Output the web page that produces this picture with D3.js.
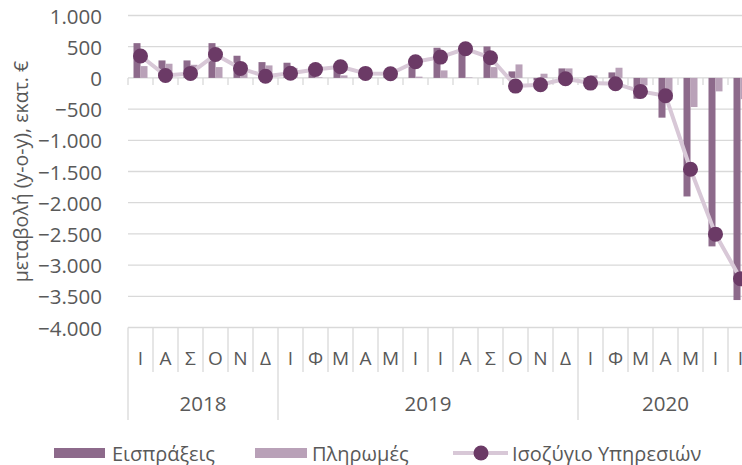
<!DOCTYPE html>
<html>
<head>
<meta charset="utf-8">
<script src="https://cdn.jsdelivr.net/npm/d3@7/dist/d3.min.js"></script>
<style>
  html, body { margin: 0; padding: 0; background: #fff; }
  svg { display: block; font-family: "Open Sans", "Noto Sans", sans-serif; }
</style>
</head>
<body>
<svg id="chart" width="742" height="465"></svg>
<script>
// ---- Data ----
const months = ["Ι","Α","Σ","Ο","Ν","Δ",
                "Ι","Φ","Μ","Α","Μ","Ι","Ι","Α","Σ","Ο","Ν","Δ",
                "Ι","Φ","Μ","Α","Μ","Ι","Ι"];
const years = [
  {label: "2018", start: 0, end: 6},
  {label: "2019", start: 6, end: 18},
  {label: "2020", start: 18, end: 25}
];
const receipts = [557, 280, 280, 557, 355, 253, 243, 150, 200, 85, 75, 280,
                  483, 475, 504, 104, -42, 152, -43, 88, -333, -637, -1900, -2700, -3560];
const payments = [189, 227, 210, 173, 208, 200, 160, 10, 40, 10, 8, 20,
                  120, 8, 173, 216, 67, 152, 40, 163, -120, -345, -467, -216, -340];
const balance  = [352, 38, 72, 374, 152, 27, 75, 134, 178, 72, 67, 258,
                  333, 467, 323, -131, -109, -13, -83, -93, -216, -285, -1464, -2504, -3219];
const yTicks = [1000, 500, 0, -500, -1000, -1500, -2000, -2500, -3000, -3500, -4000];
const seriesNames = ["Εισπράξεις", "Πληρωμές", "Ισοζύγιο Υπηρεσιών"];
const yTitle = "μεταβολή (y-o-y), εκατ. €";

// ---- Styles ----
const cReceipts = "#8d6a8b";
const cPayments = "#b9a1b8";
const cLine = "#d8c8d7";
const cDot = "#6b3a66";
const cGrid = "#d9d9d9";
const cText = "#595959";

const svg = d3.select("#chart");
const idx = d3.range(months.length);

const x = d3.scaleBand().domain(idx).range([128, 753]);
const y = d3.scaleLinear().domain([-4000, 1000]).range([327.5, 15.5]);
const bw = 7;

const fmt = v => d3.format(",")(v).replace(/,/g, ".");

// gridlines
svg.append("g").selectAll("line").data(yTicks).join("line")
  .attr("x1", 128).attr("x2", 742)
  .attr("y1", d => y(d)).attr("y2", d => y(d))
  .attr("stroke", cGrid).attr("stroke-width", 1.3);

// y tick labels
svg.append("g").selectAll("text").data(yTicks).join("text")
  .attr("x", 102).attr("y", d => y(d))
  .attr("text-anchor", "end").attr("dominant-baseline", "central")
  .attr("fill", cText).attr("font-size", 20.5)
  .text(d => fmt(d));

// y title
svg.append("text")
  .attr("transform", `translate(20,${(15.5 + 327.5) / 2}) rotate(-90)`)
  .attr("text-anchor", "middle").attr("dominant-baseline", "central")
  .attr("fill", cText).attr("font-size", 19.5)
  .text(yTitle);

// ticks on zero line
const bounds = d3.range(months.length + 1).map(i => 128 + i * x.bandwidth());
svg.append("g").selectAll("line").data(bounds).join("line")
  .attr("x1", d => d).attr("x2", d => d)
  .attr("y1", y(0)).attr("y2", y(0) + 7)
  .attr("stroke", cGrid).attr("stroke-width", 1.3);

// bars
svg.append("g").selectAll("rect").data(idx).join("rect")
  .attr("x", i => x(i) + x.bandwidth() / 2 - bw)
  .attr("width", bw)
  .attr("y", i => y(Math.max(0, receipts[i])))
  .attr("height", i => Math.abs(y(receipts[i]) - y(0)))
  .attr("fill", cReceipts);
svg.append("g").selectAll("rect").data(idx).join("rect")
  .attr("x", i => x(i) + x.bandwidth() / 2)
  .attr("width", bw)
  .attr("y", i => y(Math.max(0, payments[i])))
  .attr("height", i => Math.abs(y(payments[i]) - y(0)))
  .attr("fill", cPayments);

// line
const line = d3.line().x(i => x(i) + x.bandwidth() / 2).y(i => y(balance[i]));
svg.append("path").datum(idx).attr("d", line)
  .attr("fill", "none").attr("stroke", cLine).attr("stroke-width", 4)
  .attr("stroke-linejoin", "round");
svg.append("g").selectAll("circle").data(idx).join("circle")
  .attr("cx", i => x(i) + x.bandwidth() / 2).attr("cy", i => y(balance[i]))
  .attr("r", 7.5).attr("fill", cDot);

// category axis at bottom
const yearBounds = new Set(years.flatMap(d => [d.start, d.end]));
svg.append("g").selectAll("line").data(d3.range(months.length + 1)).join("line")
  .attr("x1", i => 128 + i * x.bandwidth()).attr("x2", i => 128 + i * x.bandwidth())
  .attr("y1", 327.5).attr("y2", i => yearBounds.has(i) ? 420 : 372)
  .attr("stroke", cGrid).attr("stroke-width", 1.3);

svg.append("g").selectAll("text").data(idx).join("text")
  .attr("x", i => x(i) + x.bandwidth() / 2).attr("y", 358)
  .attr("text-anchor", "middle").attr("dominant-baseline", "central")
  .attr("fill", cText).attr("font-size", 19)
  .text(i => months[i]);

svg.append("g").selectAll("text").data(years).join("text")
  .attr("x", d => (128 + d.start * x.bandwidth() + 128 + d.end * x.bandwidth()) / 2)
  .attr("y", 403)
  .attr("text-anchor", "middle").attr("dominant-baseline", "central")
  .attr("fill", cText).attr("font-size", 20.5)
  .text(d => d.label);

// legend
const lg = svg.append("g");
const ly = 453;
lg.append("rect").attr("x", 54).attr("y", ly - 5).attr("width", 51).attr("height", 10).attr("fill", cReceipts);
lg.append("text").attr("x", 112).attr("y", ly).attr("dominant-baseline", "central")
  .attr("fill", cText).attr("font-size", 20).text(seriesNames[0]);
lg.append("rect").attr("x", 255).attr("y", ly - 5).attr("width", 52).attr("height", 10).attr("fill", cPayments);
lg.append("text").attr("x", 312).attr("y", ly).attr("dominant-baseline", "central")
  .attr("fill", cText).attr("font-size", 20).text(seriesNames[1]);
lg.append("line").attr("x1", 453).attr("x2", 508).attr("y1", ly).attr("y2", ly)
  .attr("stroke", cLine).attr("stroke-width", 4);
lg.append("circle").attr("cx", 481).attr("cy", ly).attr("r", 7.5).attr("fill", cDot);
lg.append("text").attr("x", 512).attr("y", ly).attr("dominant-baseline", "central")
  .attr("fill", cText).attr("font-size", 20).text(seriesNames[2]);
</script>
</body>
</html>
